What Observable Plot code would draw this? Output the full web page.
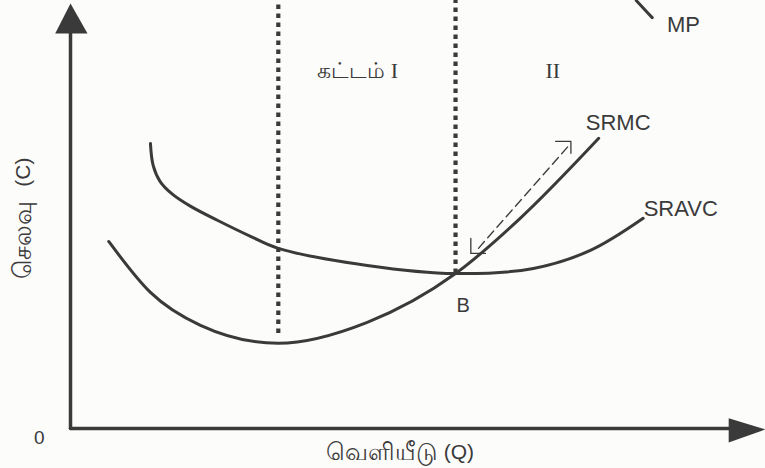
<!DOCTYPE html>
<html><head><meta charset="utf-8">
<script src="https://cdn.jsdelivr.net/npm/d3@7"></script>
<script src="https://cdn.jsdelivr.net/npm/@observablehq/plot@0.6"></script>
<style>html,body{margin:0;padding:0;background:#fcfcfa} svg{display:block}</style>
</head><body><div id="chart"></div>
<script>
// SRAVC curve (output Q, cost C)
const sravcQ = [11.5, 11.9, 12.9, 14.7, 17.3, 21.2, 25.9, 29.9, 42.7, 55.4, 66.6, 74.8, 82.4];
const sravcC = [66.6, 61.4, 57.7, 54.7, 51.9, 48.6, 44.9, 42.1, 38.1, 36.2, 37.4, 41.6, 49.1];
// SRMC curve
const srmcQ = [5.5, 11.5, 18.7, 29.9, 42.7, 55.4, 64.7, 76.0];
const srmcC = [43.7, 31.8, 24.1, 19.9, 24.8, 36.2, 49.1, 67.8];
// MP curve fragment
const mpQ = [81.4, 82.6, 83.7];
const mpC = [100, 97.9, 96.0];
// Stage dividers (dotted)
const dividerQ = [29.9, 55.4];
const dividerTop = [100, 100];
const dividerBottom = [22.2, 36.2];
// Dashed double arrow along SRMC
const arrowQ = [58.7, 71.7];
const arrowC = [42.1, 66.1];
const headTopQ = [69.8, 72.0, 72.0];
const headTopC = [67.1, 67.1, 64.3];
const headBotQ = [57.6, 57.6, 59.7];
const headBotC = [44.4, 40.9, 40.9];
// Axis arrows
const yAxisQ = [0, 0];
const yAxisC = [0, 93];
const yHeadQ = [-2.2, 0, 2.45, -2.2];
const yHeadC = [92.3, 99.3, 92.3, 92.3];
const xAxisQ = [0, 95];
const xAxisC = [0, 0];
const xHeadQ = [94.7, 100, 94.7, 94.7];
const xHeadC = [2.4, -0.2, -3.3, 2.4];
// Labels
const curveLabels = ["MP", "SRMC", "SRAVC", "B"];
const curveLabelQ = [88.2, 78.8, 87.8, 56.5];
const curveLabelC = [94.2, 71.3, 51.2, 28.7];
const curveLabelSize = [22, 22, 22, 20];
const stageLabels = ["கட்டம் I", "II"];
const stageLabelQ = [41.3, 69.4];
const stageLabelC = [83.6, 83.6];
const xTitleWord = "வெளியீடு";
const xTitleSym = "(Q)";
const yTitleWord = "செலவு";
const yTitleSym = "(C)";
const originLabel = "0";

const pts = (qs, cs) => qs.map((q, i) => ({q, c: cs[i]}));
const ink = "#3a3a3a";
const sans = "'Liberation Sans', Arial, 'Noto Sans', sans-serif";
const serif = "'Liberation Serif', 'Times New Roman', serif";
const one = (q, c, t) => [{q, c, t}];

const chart = Plot.plot({
  width: 765, height: 468,
  marginLeft: 70, marginRight: 0, marginTop: 0, marginBottom: 40,
  x: {domain: [0, 100], axis: null},
  y: {domain: [0, 100], axis: null},
  style: {background: "#fcfcfa", color: ink, overflow: "visible"},
  marks: [
    Plot.ruleX(dividerQ.map((q, i) => ({q, c1: dividerBottom[i], c2: dividerTop[i]})),
      {x: "q", y1: "c1", y2: "c2", stroke: ink, strokeWidth: 4.2, strokeDasharray: "4.5,4.5"}),
    Plot.line(pts(yAxisQ, yAxisC), {x: "q", y: "c", stroke: ink, strokeWidth: 3.5}),
    Plot.line(pts(yHeadQ, yHeadC), {x: "q", y: "c", fill: ink, stroke: "none"}),
    Plot.line(pts(xAxisQ, xAxisC), {x: "q", y: "c", stroke: ink, strokeWidth: 3.5}),
    Plot.line(pts(xHeadQ, xHeadC), {x: "q", y: "c", fill: ink, stroke: "none"}),
    Plot.line(pts(sravcQ, sravcC), {x: "q", y: "c", stroke: ink, strokeWidth: 3, curve: "catmull-rom"}),
    Plot.line(pts(srmcQ, srmcC), {x: "q", y: "c", stroke: ink, strokeWidth: 3, curve: "monotone-x"}),
    Plot.line(pts(mpQ, mpC), {x: "q", y: "c", stroke: ink, strokeWidth: 3, curve: "catmull-rom"}),
    Plot.line(pts(arrowQ, arrowC), {x: "q", y: "c", stroke: ink, strokeWidth: 1.3, strokeDasharray: "9,5"}),
    Plot.line(pts(headTopQ, headTopC), {x: "q", y: "c", stroke: ink, strokeWidth: 1.3}),
    Plot.line(pts(headBotQ, headBotC), {x: "q", y: "c", stroke: ink, strokeWidth: 1.3}),
    Plot.text(curveLabels.map((t, i) => ({t, q: curveLabelQ[i], c: curveLabelC[i], s: curveLabelSize[i]})),
      {x: "q", y: "c", text: "t", fill: ink, fontSize: d => d.s, fontFamily: sans}),
    Plot.text(stageLabels.map((t, i) => ({t, q: stageLabelQ[i], c: stageLabelC[i]})),
      {x: "q", y: "c", text: "t", fill: ink, fontSize: 22, fontFamily: serif}),
    Plot.text(one(52.8, -5.6, xTitleWord), {x: "q", y: "c", text: "t", fill: ink, fontSize: 24, fontFamily: sans, textAnchor: "end"}),
    Plot.text(one(53.7, -5.6, xTitleSym), {x: "q", y: "c", text: "t", fill: ink, fontSize: 21, fontFamily: sans, textAnchor: "start"}),
    Plot.text(one(-6.8, 35.0, yTitleWord), {x: "q", y: "c", text: "t", fill: ink, fontSize: 25, fontFamily: sans, rotate: -90, textAnchor: "start"}),
    Plot.text(one(-6.8, 63.3, yTitleSym), {x: "q", y: "c", text: "t", fill: ink, fontSize: 21, fontFamily: sans, rotate: -90, textAnchor: "end"}),
    Plot.text(one(-4.5, -2.1, originLabel), {x: "q", y: "c", text: "t", fill: ink, fontSize: 19, fontFamily: sans})
  ]
});
document.getElementById("chart").append(chart);
</script>
</body></html>
